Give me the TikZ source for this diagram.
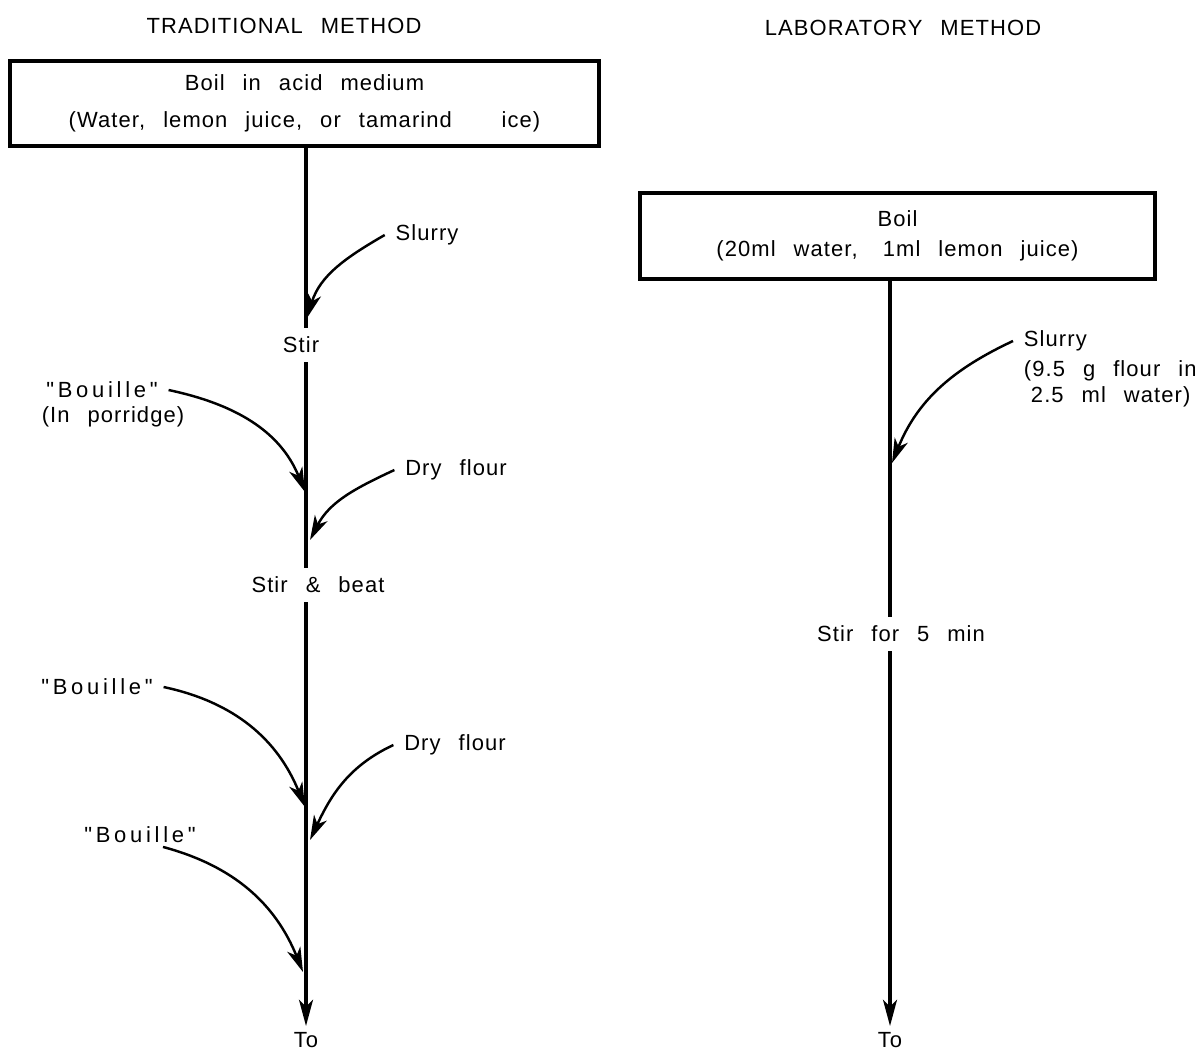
\documentclass[tikz,border=0pt]{standalone}
\usepackage{fontspec}
\setmainfont{Liberation Sans}[Ligatures=TeXOff, LetterSpace=5, WordSpace=2.5]
\usetikzlibrary{arrows.meta}

\tikzset{
  flowbox/.style={draw, line width=1.8pt, align=center, inner sep=0pt},
  stepname/.style={inner xsep=2pt, inner ysep=5pt},
  tag/.style={inner xsep=6pt, inner ysep=2pt},
  mainline/.style={line width=1.8pt},
  mainarrow/.style={line width=1.8pt, -{Stealth[length=15pt, width=8pt, inset=4pt]}},
  feed/.style={line width=1.4pt, -{Stealth[length=14pt, width=8pt, inset=4pt]}}
}
\newcommand{\spread}[1]{{\addfontfeatures{LetterSpace=17}#1}}

\begin{document}
\begin{tikzpicture}[x=0.02cm, y=0.02cm, font=\fontsize{12.5}{15}\selectfont]
  \useasboundingbox (0,0) rectangle (1195,-1052);

  % titles
  \node (titleL) at (284,-26) {TRADITIONAL METHOD};
  \node (titleR) at (903,-28) {LABORATORY METHOD};

  % boxes
  \node[flowbox, minimum width=11.78cm, minimum height=1.7cm] (boxL) at (304.5,-103.5)
    {Boil in acid medium\\[6pt](Water, lemon juice, or tamarind\hspace{18pt} ice)};
  \node[flowbox, minimum width=10.3cm, minimum height=1.72cm] (boxR) at (897.5,-236)
    {Boil\\[2pt](20ml water,\hspace{4pt} 1ml lemon juice)};

  % traditional method
  \node[stepname] (stirL) at (301,-345) {Stir};
  \node[stepname] (beatL) at (318,-585) {Stir \& beat};
  \node[anchor=north] (toL) at (306,-1026) {To};
  \draw[mainline] (boxL.south -| toL) -- (stirL.north -| toL);
  \draw[mainline] (stirL.south -| toL) -- (beatL.north -| toL);
  \draw[mainarrow] (beatL.south -| toL) -- (toL.north);

  \node[tag] (slurryL) at (427,-235) {Slurry};
  \node[tag] (bouA) at (102,-390) {\spread{"Bouille"}};
  \node[tag] (porrA) at (113,-417) {(In porridge)};
  \node[tag] (dryA) at (456,-470) {Dry flour};
  \node[tag] (bouB) at (97,-687) {\spread{"Bouille"}};
  \node[tag] (dryB) at (455,-745) {Dry flour};
  \node[tag] (bouC) at (140,-835) {\spread{"Bouille"}};

  \coordinate (inSlurryL) at (307,-318);
  \coordinate (inBouA) at (305,-492);
  \coordinate (inDryA) at (310,-540);
  \coordinate (inBouB) at (305,-807);
  \coordinate (inDryB) at (310,-840);
  \coordinate (inBouC) at (303,-972);
  \coordinate (bouCfoot) at ([shift={(23,0)}]bouC.south);

  \draw[feed] (slurryL.west) to[out=210, in=73] (inSlurryL);
  \draw[feed] (bouA.east) to[out=-12, in=112] (inBouA);
  \draw[feed] (dryA.west) to[out=205, in=63] (inDryA);
  \draw[feed] (bouB.east) to[out=-12, in=112] (inBouB);
  \draw[feed] (dryB.west) to[out=205, in=65] (inDryB);
  \draw[feed] (bouCfoot) to[out=-15, in=112] (inBouC);

  % laboratory method
  \node[stepname] (stirR) at (901,-634) {Stir for 5 min};
  \node[anchor=north] (toR) at (890,-1026) {To};
  \draw[mainline] (boxR.south -| toR) -- (stirR.north -| toR);
  \draw[mainarrow] (stirR.south -| toR) -- (toR.north);

  \node[tag, anchor=west] (slurryR) at (1013,-341) {Slurry};
  \node[tag, anchor=west, align=left] (recipeR) at (1013,-384)
    {(9.5 g flour in\\\hspace*{4pt}2.5 ml water)};
  \coordinate (inSlurryR) at (892,-463);
  \draw[feed] (slurryR.west) to[out=205, in=68] (inSlurryR);
\end{tikzpicture}
\end{document}
